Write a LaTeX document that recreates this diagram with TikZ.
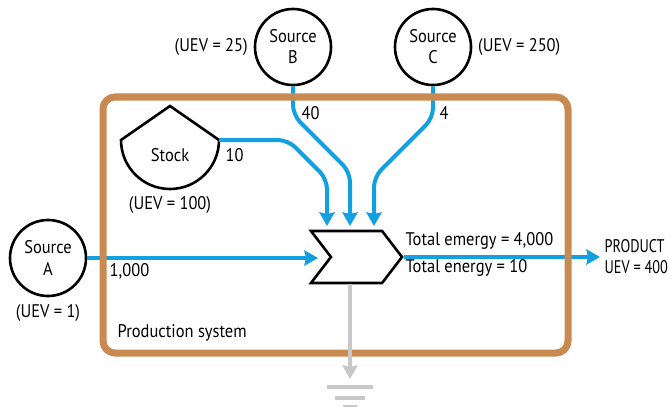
\documentclass[tikz,border=0pt]{standalone}
\usepackage{fontspec}
\setmainfont{PT Sans}[FakeStretch=0.9]
\newfontfamily\narrowfont{PT Sans}[FakeStretch=0.78]
\usetikzlibrary{arrows.meta,positioning,shapes.symbols}
\definecolor{flowblue}{RGB}{18,160,225}
\definecolor{framebrown}{RGB}{200,138,80}
\definecolor{sinkgray}{RGB}{200,200,200}

\begin{document}
\begin{tikzpicture}[
    x=0.025cm, y=-0.025cm,
    every node/.style={font=\fontsize{13}{15}\selectfont},
    source/.style={
      circle,
      draw,
      line width=0.065cm,
      minimum size=1.9cm,
      align=center,
      inner sep=0pt
    },
    label/.style={inner sep=1pt},
    flow/.style={-{Stealth[length=0.34cm,width=0.38cm,inset=0.04cm]}, flowblue, line width=0.1cm, rounded corners=0.25cm},
    heat/.style={-{Stealth[length=0.34cm,width=0.38cm,inset=0.04cm]}, sinkgray, line width=0.1cm},
    frame/.style={framebrown, line width=0.175cm, rounded corners=0.3cm}
  ]
    \useasboundingbox (0,0) rectangle (670,407);

    % sources
    \node[source] (A) at (48,258) {Source\\A};
    \node[source] (B) at (293,47) {Source\\B};
    \node[source] (C) at (433,47) {Source\\C};
    \node[label, below=4pt of A] (uevA) {(UEV = 1)};
    \node[label, left=3pt of B] (uevB) {(UEV = 25)};
    \node[label, right=3pt of C] (uevC) {(UEV = 250)};

    % storage tank
    \draw[line width=0.065cm, line join=miter] (121,140) -- (170,106) -- (219,140)
      arc[start angle=0, end angle=180, radius=49] -- cycle;
    \node (stock) at (170,155) {Stock};
    \node[label] (uevS) at (170,205) {(UEV = 100)};
    \coordinate (stockout) at (219,140);

    % interaction
    \node[signal, signal from=west, signal to=east, signal pointer angle=105,
      draw, fill=white, line width=0.065cm, minimum width=2.275cm, minimum height=1.3cm,
      inner sep=0pt] (mix) at (356.5,257) {};
    \coordinate (inA) at (318,258);
    \coordinate (inS) at (327,226);
    \coordinate (inB) at (350,226);
    \coordinate (inC) at (374,226);
    \coordinate (out) at (600,257);
    \coordinate (sink) at (350,379);

    \draw[flow] (A) -- (inA);
    \draw[flow] (stockout) -- (288,140) -- (327,179) -- (inS);
    \draw[flow] (B) -- (293,115) -- (350,172) -- (inB);
    \draw[flow] (C) -- (433,118) -- (374,177) -- (inC);
    \draw[flow] (mix.east) -- (out);

    \node[label, anchor=west] at (108,271) {1,000};
    \node[label, anchor=west] at (224,155) {10};
    \node[label, anchor=west] at (300,113) {40};
    \node[label, anchor=west] at (438,113) {4};

    \node[label, anchor=west] (emergy) at (404,241) {Total emergy = 4,000};
    \node[label, anchor=west] (energy) at (404,268) {Total energy = 10};
    \node[label, anchor=west, align=left, font=\fontsize{13}{15}\narrowfont] (product) at (603,257) {PRODUCT\\UEV = 400};

    % system boundary
    \draw[frame] (103,97) rectangle (568,353);
    \node[label, anchor=west] (system) at (116,333) {Production system};

    % heat sink
    \draw[heat] (mix.south -| sink) -- (sink);
    \draw[sinkgray, line width=0.1cm] (327,387) -- (373,387)
      (335,398) -- (365,398) (343,407) -- (357,407);
  \end{tikzpicture}
\end{document}
